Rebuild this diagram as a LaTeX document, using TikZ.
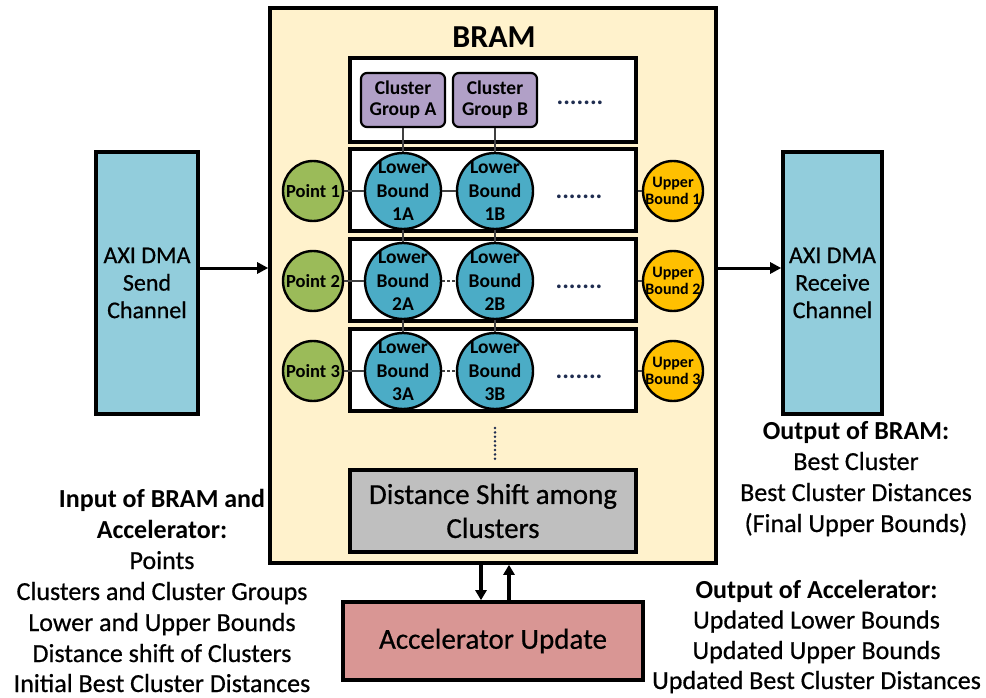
\documentclass[tikz,border=0pt]{standalone}
\usepackage{fontspec}
\setmainfont{Carlito}
\newfontfamily\medfont{Carlito}[FakeBold=0.6]
\usetikzlibrary{arrows.meta,calc}

\definecolor{bramfill}{HTML}{FFF2CC}
\definecolor{cgfill}{HTML}{B1A0C7}
\definecolor{lbfill}{HTML}{4BACC6}
\definecolor{ptfill}{HTML}{9BBB59}
\definecolor{ubfill}{HTML}{FFC000}
\definecolor{axifill}{HTML}{92CDDC}
\definecolor{dsfill}{HTML}{BFBFBF}
\definecolor{accfill}{HTML}{D99694}
\definecolor{dotcol}{HTML}{1F2D50}
\definecolor{linkcol}{HTML}{404040}

\tikzset{
  heavybox/.style={draw, line width=3.6pt, inner sep=0pt},
  cgbox/.style={draw, line width=2.2pt, rounded corners=6pt, fill=cgfill, inner sep=0pt,
    minimum width=84pt, minimum height=54pt, align=center,
    font=\bfseries\fontsize{19.5}{21}\selectfont},
  lbcirc/.style={circle, draw, line width=2.4pt, fill=lbfill, minimum size=76pt, inner sep=0pt},
  ptcirc/.style={circle, draw, line width=2.4pt, fill=ptfill, minimum size=60pt, inner sep=0pt},
  ubcirc/.style={circle, draw, line width=2.4pt, fill=ubfill, minimum size=60pt, inner sep=0pt},
  lbtext/.style={inner sep=0pt, align=center, font=\bfseries\fontsize{19.5}{23.5}\selectfont},
  pttext/.style={inner sep=0pt, align=center, font=\bfseries\fontsize{18.5}{20}\selectfont},
  ubtext/.style={inner sep=0pt, align=center, font=\bfseries\fontsize{16}{17.5}\selectfont},
  dotrow/.style={inner sep=0pt, text=dotcol, font=\bfseries\fontsize{25}{27}\selectfont},
  link/.style={draw=linkcol, line width=1.3pt},
  dlink/.style={link, dash pattern=on 3pt off 2pt},
  flow/.style={line width=3pt, -{Triangle[length=11pt,width=11pt]}},
  vflow/.style={line width=3.8pt, -{Triangle[length=10pt,width=11pt]}},
  note/.style={inner sep=0pt, anchor=base, font=\medfont\fontsize{26}{31}\selectfont},
  notehead/.style={note, font=\bfseries\fontsize{26}{31}\selectfont},
}

\begin{document}
\begin{tikzpicture}[x=1pt,y=-1pt]
\useasboundingbox (0,0) rectangle (986,698);

% BRAM container
\node[heavybox, fill=bramfill, minimum width=446pt, minimum height=555pt] (bram) at (493,285.5) {};
\node[inner sep=0pt, anchor=base, font=\bfseries\fontsize{32}{38}\selectfont] (title) at (494,48) {BRAM};

% cluster group row
\node[heavybox, fill=white, minimum width=286pt, minimum height=84pt] (cgrow) at (493,100) {};
\node[cgbox] (cgA) at (403,100) {Cluster\\Group A};
\node[cgbox] (cgB) at (495,100) {Cluster\\Group B};
\node[dotrow] (cgdots) at (580,103) {.......};

% rows of bounds
\foreach \r/\y in {1/190,2/280,3/370}{
  \node[heavybox, fill=white, minimum width=286pt, minimum height=82pt] (row\r) at (493,\y) {};
  \node[ptcirc, label={[pttext]center:Point \r}] (pt\r) at (313,\y+1) {};
  \node[lbcirc, label={[lbtext]center:{Lower\\Bound\\\r A}}] (lb\r A) at (403,\y+1) {};
  \node[lbcirc, label={[lbtext]center:{Lower\\Bound\\\r B}}] (lb\r B) at (495,\y+1) {};
  \node[ubcirc, label={[ubtext]center:{Upper\\Bound \r}}] (ub\r) at (673,\y+1) {};
  \node[dotrow] (rdots\r) at (579,\y+7) {.......};
  \draw[link] (pt\r) -- (lb\r A);
  \draw[link] (ub\r.west) -- (ub\r.west -| row\r.east);
}
\draw[link] (lb1A) -- (lb1B);
\draw[dlink] (lb2A) -- (lb2B);
\draw[dlink] (lb3A) -- (lb3B);

% column links
\draw[link] (cgA.south) -- (lb1A.north);
\draw[link] (lb1A.south) -- (lb2A.north);
\draw[link] (lb2A.south) -- (lb3A.north);
\draw[link] (cgB.south) -- (lb1B.north);
\draw[link] (lb1B.south) -- (lb2B.north);
\draw[link] (lb2B.south) -- (lb3B.north);

% more rows follow
\coordinate (vdtop) at (495,428);
\coordinate (vdbot) at (495,459);
\draw[line width=2.8pt, line cap=round, dash pattern=on 0pt off 4.4pt, draw=dotcol] (vdtop) -- (vdbot);

% distance shift
\node[heavybox, fill=dsfill, minimum width=286pt, minimum height=82pt, align=center,
      font=\medfont\fontsize{29}{34}\selectfont] (dshift) at (493,511) {Distance Shift among\\Clusters};

% accelerator
\node[heavybox, fill=accfill, minimum width=300pt, minimum height=78pt,
      font=\medfont\fontsize{29}{34}\selectfont] (acc) at (493,641) {Accelerator Update};

% DMA channels
\node[heavybox, fill=axifill, minimum width=102pt, minimum height=262pt, align=center,
      font=\medfont\fontsize{24}{27.5}\selectfont] (send) at (147,283) {AXI DMA\\Send\\Channel};
\node[heavybox, fill=axifill, minimum width=99pt, minimum height=262pt, align=center,
      font=\medfont\fontsize{24}{27.5}\selectfont] (recv) at (832.5,283) {AXI DMA\\Receive\\Channel};

% data flow
\coordinate (flowy) at (0,268);
\draw[flow] (send.east |- flowy) -- (bram.west |- flowy);
\draw[flow] (bram.east |- flowy) -- (recv.west |- flowy);
\coordinate (downx) at (481,0);
\coordinate (upx) at (509,0);
\draw[vflow] (bram.south -| downx) -- (acc.north -| downx);
\draw[vflow] (acc.north -| upx) -- (bram.south -| upx);

% notes
\node[notehead] (in1) at (162,507) {Input of BRAM and};
\node[notehead] (in2) at (162,538) {Accelerator:};
\node[note] (in3) at (162,569) {Points};
\node[note] (in4) at (162,600) {Clusters and Cluster Groups};
\node[note] (in5) at (162,631) {Lower and Upper Bounds};
\node[note] (in6) at (162,662) {Distance shift of Clusters};
\node[note] (in7) at (162,692) {Initial Best Cluster Distances};

\node[notehead] (ob1) at (856,439) {Output of BRAM:};
\node[note] (ob2) at (856,470) {Best Cluster};
\node[note] (ob3) at (856,501) {Best Cluster Distances};
\node[note] (ob4) at (856,532) {(Final Upper Bounds)};

\node[notehead] (oa1) at (816.5,598) {Output of Accelerator:};
\node[note] (oa2) at (816.5,628.5) {Updated Lower Bounds};
\node[note] (oa3) at (816.5,659) {Updated Upper Bounds};
\node[note] (oa4) at (816.5,689) {Updated Best Cluster Distances};
\end{tikzpicture}
\end{document}
